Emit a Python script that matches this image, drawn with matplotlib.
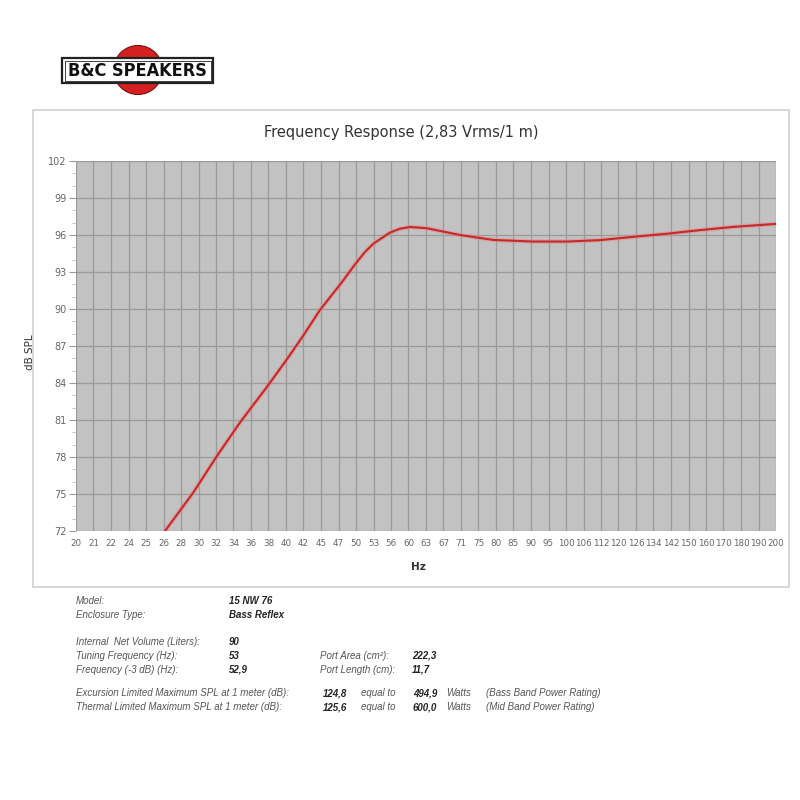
import numpy as np
import matplotlib
matplotlib.use("Agg")
import matplotlib.pyplot as plt
from matplotlib.patches import Rectangle, Circle
import matplotlib.patheffects as pe

# ---- data ----
freq_hz = [26.8, 29.4, 31.9, 34.3, 37.5, 40.0, 42.3, 44.6, 48.0, 50.2, 51.7, 53.2, 56.2,
           58.0, 60.0, 63.4, 70.7, 78.9, 89.9, 100.5, 111.8, 125.0, 139.6, 156.0, 174.0, 200.0]
spl_db = [72.0, 75.1, 78.2, 80.8, 83.7, 85.9, 87.9, 89.9, 92.2, 93.7, 94.6, 95.3, 96.2,
          96.5, 96.65, 96.55, 96.0, 95.6, 95.47, 95.47, 95.58, 95.85, 96.1, 96.4, 96.66, 96.9]
x_tick_labels = ["20", "21", "22", "24", "25", "26", "28", "30", "32", "34", "36", "38",
                 "40", "42", "45", "47", "50", "53", "56", "60", "63", "67", "71", "75",
                 "80", "85", "90", "95", "100", "106", "112", "120", "126", "134", "142",
                 "150", "160", "170", "180", "190", "200"]
y_ticks = [72, 75, 78, 81, 84, 87, 90, 93, 96, 99, 102]

title = "Frequency Response (2,83 Vrms/1 m)"

info_left = [("Model:", "15 NW 76"), ("Enclosure Type:", "Bass Reflex"),
             ("Internal  Net Volume (Liters):", "90"),
             ("Tuning Frequency (Hz):", "53"), ("Frequency (-3 dB) (Hz):", "52,9")]
info_port = [("Port Area (cm\u00b2):", "222,3"), ("Port Length (cm):", "11,7")]
info_spl = [("Excursion Limited Maximum SPL at 1 meter (dB):", "124,8", "494,9", "(Bass Band Power Rating)"),
            ("Thermal Limited Maximum SPL at 1 meter (dB):", "125,6", "600,0", "(Mid Band Power Rating)")]

# ---- figure ----
W = H = 800
fig = plt.figure(figsize=(8, 8), dpi=100)
fig.patch.set_facecolor("white")

def fx(px):
    return px / W

def fy(py):
    return 1 - py / H

# outer chart panel
fig.patches.append(Rectangle((fx(33), fy(587)), fx(789) - fx(33), fy(110) - fy(587),
                             transform=fig.transFigure, facecolor="none",
                             edgecolor="#cfcfcf", lw=1.2, zorder=-5))

# logo
fig.patches.append(Circle((fx(138), fy(70)), 24.5 / W, transform=fig.transFigure,
                          facecolor="#d42020", edgecolor="#7a1010", lw=0.8, zorder=1))
fig.patches.append(Rectangle((fx(62), fy(83)), fx(213) - fx(62), fy(58) - fy(83),
                             transform=fig.transFigure, facecolor="white",
                             edgecolor="#222222", lw=1.6, zorder=2))
fig.patches.append(Rectangle((fx(64.5), fy(80.5)), fx(210.5) - fx(64.5), fy(60.5) - fy(80.5),
                             transform=fig.transFigure, facecolor="none",
                             edgecolor="#222222", lw=0.6, zorder=3))
fig.text(fx(137.5), fy(70.5), "B&C SPEAKERS", ha="center", va="center",
         fontsize=13, color="#111111", family="DejaVu Sans", fontstretch="condensed",
         fontweight="bold", zorder=4)

# axes
ax = fig.add_axes([fx(76), fy(531), fx(776) - fx(76), fy(161) - fy(531)])
ax.set_facecolor("#c2c2c2")
ax.set_xscale("log")
ax.set_xlim(20, 200)
ax.set_ylim(72, 102)

xt = [20 * 10 ** (i / 40) for i in range(len(x_tick_labels))]
ax.set_xticks(xt)
ax.set_xticklabels(x_tick_labels)
ax.xaxis.set_minor_locator(matplotlib.ticker.NullLocator())
ax.set_yticks(y_ticks)
ax.set_yticks(np.arange(72, 103, 1), minor=True)
ax.grid(True, which="major", color="#9a9a9a", lw=0.9)
ax.set_axisbelow(True)
ax.tick_params(axis="x", which="major", length=0, pad=6, labelsize=6.3, labelcolor="#666666")
ax.tick_params(axis="y", which="major", length=5, color="#9a9a9a", pad=2, labelsize=7, labelcolor="#666666")
ax.tick_params(axis="y", which="minor", length=3, color="#bbbbbb")
for s in ax.spines.values():
    s.set_visible(False)

ax.plot(freq_hz, spl_db, color="#c42a2a", lw=1.5, solid_capstyle="round", solid_joinstyle="round",
        path_effects=[pe.Stroke(linewidth=3.2, foreground="#e58a8a", alpha=0.55), pe.Normal()],
        zorder=5, clip_on=True)

fig.text(fx(401), fy(132), title, ha="center", va="center", fontsize=10.5, color="#333333")
fig.text(fx(30), fy(352), "dB SPL", ha="center", va="center", rotation=90, fontsize=7.5, color="#333333")
fig.text(fx(418), fy(567), "Hz", ha="center", va="center", fontsize=7.5, fontweight="bold", color="#333333")

# info block
lab_kw = dict(fontsize=7, style="italic", color="#555555", family="Liberation Sans", va="center")
val_kw = dict(fontsize=7, style="italic", fontweight="bold", color="#222222", family="Liberation Sans", va="center")
ys_left = [601, 615, 642, 656, 670]
for (lab, val), yy in zip(info_left, ys_left):
    fig.text(fx(76), fy(yy), lab, **lab_kw)
    fig.text(fx(229), fy(yy), val, **val_kw)
for (lab, val), yy in zip(info_port, [656, 670]):
    fig.text(fx(320), fy(yy), lab, **lab_kw)
    fig.text(fx(412), fy(yy), val, **val_kw)
for (lab, spl, watts, note), yy in zip(info_spl, [693, 707]):
    fig.text(fx(76), fy(yy), lab, **lab_kw)
    fig.text(fx(323), fy(yy), spl, **val_kw)
    fig.text(fx(361), fy(yy), "equal to", **lab_kw)
    fig.text(fx(413), fy(yy), watts, **val_kw)
    fig.text(fx(446), fy(yy), "Watts", **lab_kw)
    fig.text(fx(486), fy(yy), note, **lab_kw)

fig.savefig("out.png", dpi=100, facecolor="white")
